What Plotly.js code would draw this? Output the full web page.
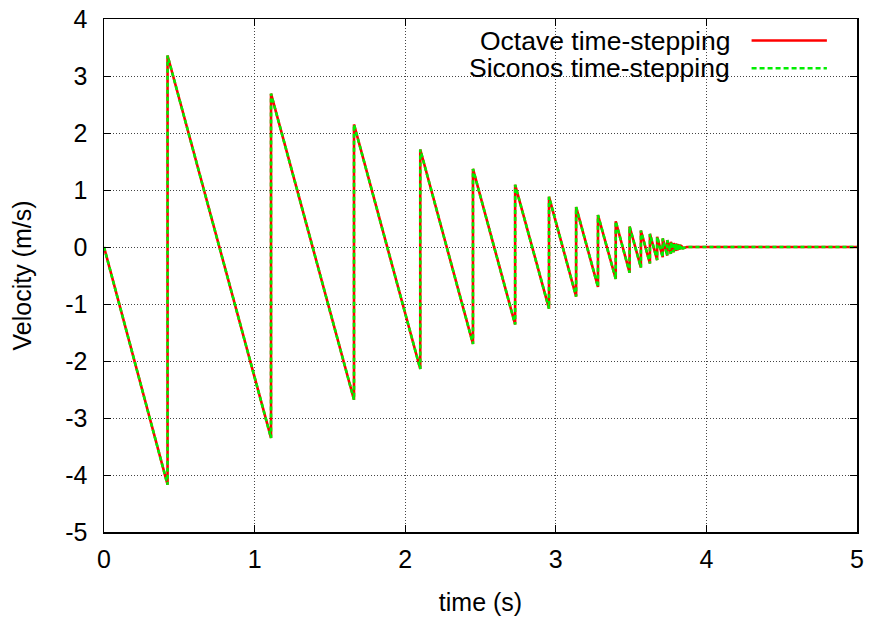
<!DOCTYPE html>
<html>
<head>
<meta charset="utf-8">
<script src="https://cdn.plot.ly/plotly-3.0.1.min.js"></script>
<style>html,body{margin:0;padding:0;background:#fff;}#chart{width:871px;height:622px;}</style>
</head>
<body>
<div id="chart"></div>
<script>
// Vertices of the velocity curve (time in s, velocity in m/s)
const timeS = [0, 0.422, 0.422, 1.109, 1.109, 1.660, 1.660, 2.100, 2.100, 2.450, 2.450,
  2.730, 2.730, 2.955, 2.955, 3.135, 3.135, 3.280, 3.280, 3.398, 3.398, 3.490, 3.490,
  3.565, 3.565, 3.625, 3.625, 3.673, 3.673, 3.710, 3.710, 3.740, 3.740, 3.764, 3.764,
  3.783, 3.783, 3.798, 3.798, 3.810, 3.810, 3.820, 3.820, 3.830, 3.830, 3.845, 3.870, 5.0];
const octaveV = [0, -4.17, 3.36, -3.35, 2.69, -2.68, 2.15, -2.14, 1.71, -1.70, 1.37,
  -1.36, 1.09, -1.08, 0.88, -0.87, 0.70, -0.70, 0.56, -0.56, 0.45, -0.45, 0.36,
  -0.36, 0.29, -0.29, 0.23, -0.23, 0.18, -0.18, 0.15, -0.15, 0.12, -0.12, 0.09,
  -0.09, 0.07, -0.07, 0.06, -0.06, 0.05, -0.05, 0.04, -0.04, 0.03, -0.02, 0, 0];
const siconosV = octaveV.slice();

const seriesNames = ["Octave time-stepping", "Siconos time-stepping"];
const xTicks = [0, 1, 2, 3, 4, 5];
const yTicks = [-5, -4, -3, -2, -1, 0, 1, 2, 3, 4];

const FONT = "Liberation Sans, Arial, Helvetica, sans-serif";
const TICK_SIZE = 25;

const traces = [
  {x: timeS, y: octaveV, type: "scatter", mode: "lines", name: seriesNames[0],
   line: {color: "#ff0000", width: 2.6}, showlegend: false},
  {x: timeS, y: siconosV, type: "scatter", mode: "lines", name: seriesNames[1],
   line: {color: "#00ee00", width: 2.6, dash: "4px,3px"}, showlegend: false}
];

const axisCommon = {
  showline: true, linecolor: "#000", linewidth: 1.5, mirror: "allticks",
  ticks: "inside", ticklen: 7, tickwidth: 1, tickcolor: "#000",
  showgrid: true, gridcolor: "#444", gridwidth: 1, griddash: "1px,2px",
  zeroline: false, tickfont: {family: FONT, size: TICK_SIZE, color: "#000"}
};

const layout = {
  width: 871, height: 622,
  margin: {l: 104, r: 14, t: 19, b: 90},
  paper_bgcolor: "#fff", plot_bgcolor: "#fff",
  font: {family: FONT, size: TICK_SIZE, color: "#000"},
  xaxis: Object.assign({}, axisCommon, {
    range: [0, 5], tickvals: xTicks, ticktext: xTicks.map(String),
    ticklabelstandoff: 4,
    title: {text: "time (s)", font: {family: FONT, size: TICK_SIZE, color: "#000"}, standoff: 22}
  }),
  yaxis: Object.assign({}, axisCommon, {
    range: [-5, 4], tickvals: yTicks, ticktext: yTicks.map(String),
    ticklabelstandoff: 10,
    title: {text: "Velocity (m/s)", font: {family: FONT, size: TICK_SIZE, color: "#000"}, standoff: 26}
  }),
  showlegend: false,
  shapes: [
    {type: "rect", xref: "paper", yref: "paper", x0: 0.374, x1: 0.981, y0: 0.872, y1: 1,
     fillcolor: "#fff", line: {width: 0}, layer: "between"},
    {type: "line", xref: "paper", yref: "paper", x0: 0.860, x1: 0.960, y0: 0.958, y1: 0.958,
     line: {color: "#ff0000", width: 2.6}},
    {type: "line", xref: "paper", yref: "paper", x0: 0.860, x1: 0.960, y0: 0.904, y1: 0.904,
     line: {color: "#00ee00", width: 2.6, dash: "5px,3px"}}
  ],
  annotations: [
    {text: seriesNames[0], xref: "paper", yref: "paper", x: 0.834, y: 0.958,
     xanchor: "right", yanchor: "middle", showarrow: false,
     font: {family: FONT, size: 26.5, color: "#000"}},
    {text: seriesNames[1], xref: "paper", yref: "paper", x: 0.834, y: 0.904,
     xanchor: "right", yanchor: "middle", showarrow: false,
     font: {family: FONT, size: 26.5, color: "#000"}}
  ]
};

Plotly.newPlot("chart", traces, layout, {staticPlot: true, displayModeBar: false});
</script>
</body>
</html>
